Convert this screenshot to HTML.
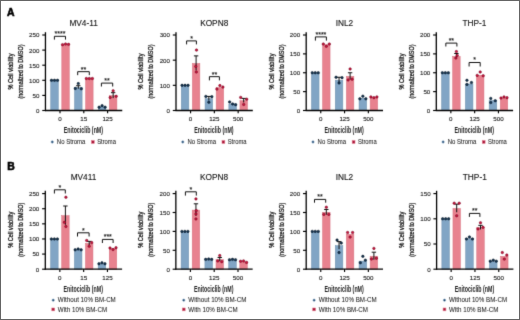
<!DOCTYPE html>
<html><head><meta charset="utf-8"><style>
html,body{margin:0;padding:0;background:#fff;}
#fig{position:relative;width:520px;height:320px;box-sizing:border-box;border:1px solid #646464;overflow:hidden;background:#fff;}
svg{position:absolute;left:-1px;top:-1px;will-change:transform;}
text{font-family:"Liberation Sans", sans-serif;}
</style></head><body><div id="fig">
<svg width="520" height="320" viewBox="0 0 520 320"><defs><filter id="bl" x="0" y="0" width="520" height="320" filterUnits="userSpaceOnUse" color-interpolation-filters="sRGB"><feConvolveMatrix order="3" kernelMatrix="0.01134 0.08382 0.01134 0.08382 0.61935 0.08382 0.01134 0.08382 0.01134" divisor="1" edgeMode="duplicate"/></filter></defs><g filter="url(#bl)"><rect x="0" y="0" width="520" height="320" fill="#fff"/>
<text x="83.65" y="25.90" font-size="8.3" text-anchor="middle" font-weight="normal" fill="#151515" stroke="#151515" stroke-width="0.12">MV4-11</text>
<g transform="translate(12.85,71.55) rotate(-90)"><text x="0" y="0" font-size="7.2" text-anchor="middle" fill="#1a1a1a" stroke="#1a1a1a" stroke-width="0.3" textLength="36" lengthAdjust="spacingAndGlyphs">% Cell viability</text></g>
<g transform="translate(22.75,71.55) rotate(-90)"><text x="0" y="0" font-size="7.2" text-anchor="middle" fill="#1a1a1a" stroke="#1a1a1a" stroke-width="0.3" textLength="54" lengthAdjust="spacingAndGlyphs">(normalized to DMSO)</text></g>
<rect x="50.70" y="80.55" width="7.60" height="29.95" fill="#81a5c5" stroke="#6f90ad" stroke-width="0.5"/>
<rect x="61.80" y="44.61" width="7.50" height="65.89" fill="#e8828f" stroke="#d8707f" stroke-width="0.5"/>
<circle cx="51.50" cy="80.30" r="1.25" fill="#143452" stroke="#07131f" stroke-width="0.5"/>
<circle cx="54.50" cy="80.30" r="1.25" fill="#143452" stroke="#07131f" stroke-width="0.5"/>
<circle cx="57.50" cy="80.30" r="1.25" fill="#143452" stroke="#07131f" stroke-width="0.5"/>
<circle cx="62.55" cy="44.66" r="1.25" fill="#c8143c" stroke="#6e0620" stroke-width="0.5"/>
<circle cx="65.55" cy="44.06" r="1.25" fill="#c8143c" stroke="#6e0620" stroke-width="0.5"/>
<circle cx="68.55" cy="44.36" r="1.25" fill="#c8143c" stroke="#6e0620" stroke-width="0.5"/>
<path d="M54.40,39.60 V36.30 H65.50 V39.60" fill="none" stroke="#111" stroke-width="1.0"/>
<text x="59.95" y="36.20" font-size="7" text-anchor="middle" font-weight="normal" fill="#1a1a1a" stroke="#1a1a1a" stroke-width="0.15">****</text>
<rect x="74.50" y="87.50" width="7.60" height="23.00" fill="#81a5c5" stroke="#6f90ad" stroke-width="0.5"/>
<rect x="85.60" y="78.74" width="7.50" height="31.76" fill="#e8828f" stroke="#d8707f" stroke-width="0.5"/>
<line x1="78.30" y1="85.74" x2="78.30" y2="88.76" stroke="#111" stroke-width="1.0"/>
<line x1="76.10" y1="85.74" x2="80.50" y2="85.74" stroke="#111" stroke-width="1.0"/>
<circle cx="75.30" cy="88.45" r="1.25" fill="#143452" stroke="#07131f" stroke-width="0.5"/>
<circle cx="78.30" cy="83.62" r="1.25" fill="#143452" stroke="#07131f" stroke-width="0.5"/>
<circle cx="81.30" cy="88.76" r="1.25" fill="#143452" stroke="#07131f" stroke-width="0.5"/>
<circle cx="86.35" cy="78.49" r="1.25" fill="#c8143c" stroke="#6e0620" stroke-width="0.5"/>
<circle cx="89.35" cy="78.49" r="1.25" fill="#c8143c" stroke="#6e0620" stroke-width="0.5"/>
<circle cx="92.35" cy="78.49" r="1.25" fill="#c8143c" stroke="#6e0620" stroke-width="0.5"/>
<path d="M77.70,75.16 V71.66 H89.30 V75.16" fill="none" stroke="#111" stroke-width="1.0"/>
<text x="83.50" y="71.56" font-size="7" text-anchor="middle" font-weight="normal" fill="#1a1a1a" stroke="#1a1a1a" stroke-width="0.15">**</text>
<rect x="98.30" y="106.82" width="7.60" height="3.68" fill="#81a5c5" stroke="#6f90ad" stroke-width="0.5"/>
<rect x="109.40" y="95.65" width="7.50" height="14.85" fill="#e8828f" stroke="#d8707f" stroke-width="0.5"/>
<line x1="113.15" y1="92.68" x2="113.15" y2="98.12" stroke="#111" stroke-width="1.0"/>
<line x1="110.95" y1="92.68" x2="115.35" y2="92.68" stroke="#111" stroke-width="1.0"/>
<circle cx="99.10" cy="107.18" r="1.25" fill="#143452" stroke="#07131f" stroke-width="0.5"/>
<circle cx="102.10" cy="105.67" r="1.25" fill="#143452" stroke="#07131f" stroke-width="0.5"/>
<circle cx="105.10" cy="107.18" r="1.25" fill="#143452" stroke="#07131f" stroke-width="0.5"/>
<circle cx="110.15" cy="97.51" r="1.25" fill="#c8143c" stroke="#6e0620" stroke-width="0.5"/>
<circle cx="113.15" cy="90.87" r="1.25" fill="#c8143c" stroke="#6e0620" stroke-width="0.5"/>
<circle cx="116.15" cy="96.31" r="1.25" fill="#c8143c" stroke="#6e0620" stroke-width="0.5"/>
<path d="M101.40,86.50 V83.10 H112.70 V86.50" fill="none" stroke="#111" stroke-width="1.0"/>
<text x="107.05" y="83.00" font-size="7" text-anchor="middle" font-weight="normal" fill="#1a1a1a" stroke="#1a1a1a" stroke-width="0.15">**</text>
<line x1="45.45" y1="32.20" x2="45.45" y2="111.10" stroke="#000" stroke-width="1.3"/>
<line x1="44.95" y1="110.50" x2="122.25" y2="110.50" stroke="#000" stroke-width="1.3"/>
<line x1="42.25" y1="110.50" x2="45.45" y2="110.50" stroke="#000" stroke-width="1.15"/>
<text x="39.45" y="112.90" font-size="6.2" text-anchor="end" font-weight="normal" fill="#1a1a1a" stroke="#1a1a1a" stroke-width="0.1">0</text>
<line x1="42.25" y1="95.40" x2="45.45" y2="95.40" stroke="#000" stroke-width="1.15"/>
<text x="39.45" y="97.80" font-size="6.2" text-anchor="end" font-weight="normal" fill="#1a1a1a" stroke="#1a1a1a" stroke-width="0.1">50</text>
<line x1="42.25" y1="80.30" x2="45.45" y2="80.30" stroke="#000" stroke-width="1.15"/>
<text x="39.45" y="82.70" font-size="6.2" text-anchor="end" font-weight="normal" fill="#1a1a1a" stroke="#1a1a1a" stroke-width="0.1">100</text>
<line x1="42.25" y1="65.20" x2="45.45" y2="65.20" stroke="#000" stroke-width="1.15"/>
<text x="39.45" y="67.60" font-size="6.2" text-anchor="end" font-weight="normal" fill="#1a1a1a" stroke="#1a1a1a" stroke-width="0.1">150</text>
<line x1="42.25" y1="50.10" x2="45.45" y2="50.10" stroke="#000" stroke-width="1.15"/>
<text x="39.45" y="52.50" font-size="6.2" text-anchor="end" font-weight="normal" fill="#1a1a1a" stroke="#1a1a1a" stroke-width="0.1">200</text>
<line x1="42.25" y1="35.00" x2="45.45" y2="35.00" stroke="#000" stroke-width="1.15"/>
<text x="39.45" y="37.40" font-size="6.2" text-anchor="end" font-weight="normal" fill="#1a1a1a" stroke="#1a1a1a" stroke-width="0.1">250</text>
<line x1="60.00" y1="110.50" x2="60.00" y2="113.30" stroke="#000" stroke-width="1.15"/>
<text x="60.00" y="121.40" font-size="6.2" text-anchor="middle" font-weight="normal" fill="#1a1a1a" stroke="#1a1a1a" stroke-width="0.12">0</text>
<line x1="83.80" y1="110.50" x2="83.80" y2="113.30" stroke="#000" stroke-width="1.15"/>
<text x="83.80" y="121.40" font-size="6.2" text-anchor="middle" font-weight="normal" fill="#1a1a1a" stroke="#1a1a1a" stroke-width="0.12">15</text>
<line x1="107.60" y1="110.50" x2="107.60" y2="113.30" stroke="#000" stroke-width="1.15"/>
<text x="107.60" y="121.40" font-size="6.2" text-anchor="middle" font-weight="normal" fill="#1a1a1a" stroke="#1a1a1a" stroke-width="0.12">125</text>
<text x="63.65" y="132.90" font-size="8.3" text-anchor="start" font-weight="bold" fill="#1a1a1a" textLength="39.4" lengthAdjust="spacingAndGlyphs" >Enitociclib (nM)</text>
<circle cx="52.25" cy="142.00" r="1.15" fill="#173c62" stroke="#7fa5c5" stroke-width="0.6"/>
<text x="56.85" y="144.30" font-size="6.5" text-anchor="start" font-weight="normal" fill="#1a1a1a" textLength="28.6" lengthAdjust="spacingAndGlyphs" stroke="#1a1a1a" stroke-width="0.05">No Stroma</text>
<rect x="91.45" y="140.60" width="2.8" height="2.8" fill="#a81236" stroke="#e07a8c" stroke-width="0.6"/>
<text x="97.15" y="144.30" font-size="6.5" text-anchor="start" font-weight="normal" fill="#1a1a1a" textLength="18.8" lengthAdjust="spacingAndGlyphs" stroke="#1a1a1a" stroke-width="0.05">Stroma</text>
<text x="214.20" y="25.90" font-size="8.3" text-anchor="middle" font-weight="normal" fill="#151515" stroke="#151515" stroke-width="0.12">KOPN8</text>
<g transform="translate(143.40,71.55) rotate(-90)"><text x="0" y="0" font-size="7.2" text-anchor="middle" fill="#1a1a1a" stroke="#1a1a1a" stroke-width="0.3" textLength="36" lengthAdjust="spacingAndGlyphs">% Cell viability</text></g>
<g transform="translate(153.30,71.55) rotate(-90)"><text x="0" y="0" font-size="7.2" text-anchor="middle" fill="#1a1a1a" stroke="#1a1a1a" stroke-width="0.3" textLength="54" lengthAdjust="spacingAndGlyphs">(normalized to DMSO)</text></g>
<rect x="181.25" y="85.58" width="7.60" height="24.92" fill="#81a5c5" stroke="#6f90ad" stroke-width="0.5"/>
<rect x="192.35" y="63.44" width="7.50" height="47.06" fill="#e8828f" stroke="#d8707f" stroke-width="0.5"/>
<line x1="196.10" y1="55.89" x2="196.10" y2="70.48" stroke="#111" stroke-width="1.0"/>
<line x1="193.90" y1="55.89" x2="198.30" y2="55.89" stroke="#111" stroke-width="1.0"/>
<circle cx="182.05" cy="85.33" r="1.25" fill="#143452" stroke="#07131f" stroke-width="0.5"/>
<circle cx="185.05" cy="85.33" r="1.25" fill="#143452" stroke="#07131f" stroke-width="0.5"/>
<circle cx="188.05" cy="85.33" r="1.25" fill="#143452" stroke="#07131f" stroke-width="0.5"/>
<circle cx="195.80" cy="66.46" r="1.25" fill="#c8143c" stroke="#6e0620" stroke-width="0.5"/>
<circle cx="196.50" cy="50.10" r="1.25" fill="#c8143c" stroke="#6e0620" stroke-width="0.5"/>
<circle cx="196.30" cy="72.00" r="1.25" fill="#c8143c" stroke="#6e0620" stroke-width="0.5"/>
<path d="M186.60,44.40 V40.90 H196.40 V44.40" fill="none" stroke="#111" stroke-width="1.0"/>
<text x="191.50" y="40.80" font-size="7" text-anchor="middle" font-weight="normal" fill="#1a1a1a" stroke="#1a1a1a" stroke-width="0.15">*</text>
<rect x="205.05" y="98.67" width="7.60" height="11.83" fill="#81a5c5" stroke="#6f90ad" stroke-width="0.5"/>
<rect x="216.15" y="87.60" width="7.50" height="22.90" fill="#e8828f" stroke="#d8707f" stroke-width="0.5"/>
<line x1="208.85" y1="96.41" x2="208.85" y2="100.43" stroke="#111" stroke-width="1.0"/>
<line x1="206.65" y1="96.41" x2="211.05" y2="96.41" stroke="#111" stroke-width="1.0"/>
<circle cx="205.85" cy="96.41" r="1.25" fill="#143452" stroke="#07131f" stroke-width="0.5"/>
<circle cx="208.85" cy="102.19" r="1.25" fill="#143452" stroke="#07131f" stroke-width="0.5"/>
<circle cx="211.85" cy="96.66" r="1.25" fill="#143452" stroke="#07131f" stroke-width="0.5"/>
<circle cx="216.90" cy="89.11" r="1.25" fill="#c8143c" stroke="#6e0620" stroke-width="0.5"/>
<circle cx="219.90" cy="85.59" r="1.25" fill="#c8143c" stroke="#6e0620" stroke-width="0.5"/>
<circle cx="222.90" cy="87.09" r="1.25" fill="#c8143c" stroke="#6e0620" stroke-width="0.5"/>
<path d="M209.40,80.36 V76.66 H219.40 V80.36" fill="none" stroke="#111" stroke-width="1.0"/>
<text x="214.40" y="76.56" font-size="7" text-anchor="middle" font-weight="normal" fill="#1a1a1a" stroke="#1a1a1a" stroke-width="0.15">**</text>
<rect x="228.85" y="103.95" width="7.60" height="6.55" fill="#81a5c5" stroke="#6f90ad" stroke-width="0.5"/>
<rect x="239.95" y="100.68" width="7.50" height="9.82" fill="#e8828f" stroke="#d8707f" stroke-width="0.5"/>
<line x1="243.70" y1="98.42" x2="243.70" y2="102.45" stroke="#111" stroke-width="1.0"/>
<line x1="241.50" y1="98.42" x2="245.90" y2="98.42" stroke="#111" stroke-width="1.0"/>
<circle cx="229.65" cy="101.94" r="1.25" fill="#143452" stroke="#07131f" stroke-width="0.5"/>
<circle cx="232.65" cy="103.96" r="1.25" fill="#143452" stroke="#07131f" stroke-width="0.5"/>
<circle cx="235.65" cy="104.71" r="1.25" fill="#143452" stroke="#07131f" stroke-width="0.5"/>
<circle cx="240.70" cy="97.41" r="1.25" fill="#c8143c" stroke="#6e0620" stroke-width="0.5"/>
<circle cx="243.70" cy="104.46" r="1.25" fill="#c8143c" stroke="#6e0620" stroke-width="0.5"/>
<circle cx="246.70" cy="99.17" r="1.25" fill="#c8143c" stroke="#6e0620" stroke-width="0.5"/>
<line x1="176.00" y1="32.20" x2="176.00" y2="111.10" stroke="#000" stroke-width="1.3"/>
<line x1="175.50" y1="110.50" x2="252.80" y2="110.50" stroke="#000" stroke-width="1.3"/>
<line x1="172.80" y1="110.50" x2="176.00" y2="110.50" stroke="#000" stroke-width="1.15"/>
<text x="170.00" y="112.90" font-size="6.2" text-anchor="end" font-weight="normal" fill="#1a1a1a" stroke="#1a1a1a" stroke-width="0.1">0</text>
<line x1="172.80" y1="85.33" x2="176.00" y2="85.33" stroke="#000" stroke-width="1.15"/>
<text x="170.00" y="87.73" font-size="6.2" text-anchor="end" font-weight="normal" fill="#1a1a1a" stroke="#1a1a1a" stroke-width="0.1">100</text>
<line x1="172.80" y1="60.17" x2="176.00" y2="60.17" stroke="#000" stroke-width="1.15"/>
<text x="170.00" y="62.57" font-size="6.2" text-anchor="end" font-weight="normal" fill="#1a1a1a" stroke="#1a1a1a" stroke-width="0.1">200</text>
<line x1="172.80" y1="35.00" x2="176.00" y2="35.00" stroke="#000" stroke-width="1.15"/>
<text x="170.00" y="37.40" font-size="6.2" text-anchor="end" font-weight="normal" fill="#1a1a1a" stroke="#1a1a1a" stroke-width="0.1">300</text>
<line x1="190.55" y1="110.50" x2="190.55" y2="113.30" stroke="#000" stroke-width="1.15"/>
<text x="190.55" y="121.40" font-size="6.2" text-anchor="middle" font-weight="normal" fill="#1a1a1a" stroke="#1a1a1a" stroke-width="0.12">0</text>
<line x1="214.35" y1="110.50" x2="214.35" y2="113.30" stroke="#000" stroke-width="1.15"/>
<text x="214.35" y="121.40" font-size="6.2" text-anchor="middle" font-weight="normal" fill="#1a1a1a" stroke="#1a1a1a" stroke-width="0.12">125</text>
<line x1="238.15" y1="110.50" x2="238.15" y2="113.30" stroke="#000" stroke-width="1.15"/>
<text x="238.15" y="121.40" font-size="6.2" text-anchor="middle" font-weight="normal" fill="#1a1a1a" stroke="#1a1a1a" stroke-width="0.12">500</text>
<text x="194.20" y="132.90" font-size="8.3" text-anchor="start" font-weight="bold" fill="#1a1a1a" textLength="39.4" lengthAdjust="spacingAndGlyphs" >Enitociclib (nM)</text>
<circle cx="182.80" cy="142.00" r="1.15" fill="#173c62" stroke="#7fa5c5" stroke-width="0.6"/>
<text x="187.40" y="144.30" font-size="6.5" text-anchor="start" font-weight="normal" fill="#1a1a1a" textLength="28.6" lengthAdjust="spacingAndGlyphs" stroke="#1a1a1a" stroke-width="0.05">No Stroma</text>
<rect x="222.00" y="140.60" width="2.8" height="2.8" fill="#a81236" stroke="#e07a8c" stroke-width="0.6"/>
<text x="227.70" y="144.30" font-size="6.5" text-anchor="start" font-weight="normal" fill="#1a1a1a" textLength="18.8" lengthAdjust="spacingAndGlyphs" stroke="#1a1a1a" stroke-width="0.05">Stroma</text>
<text x="344.40" y="25.90" font-size="8.3" text-anchor="middle" font-weight="normal" fill="#151515" stroke="#151515" stroke-width="0.12">INL2</text>
<g transform="translate(273.60,71.55) rotate(-90)"><text x="0" y="0" font-size="7.2" text-anchor="middle" fill="#1a1a1a" stroke="#1a1a1a" stroke-width="0.3" textLength="36" lengthAdjust="spacingAndGlyphs">% Cell viability</text></g>
<g transform="translate(283.50,71.55) rotate(-90)"><text x="0" y="0" font-size="7.2" text-anchor="middle" fill="#1a1a1a" stroke="#1a1a1a" stroke-width="0.3" textLength="54" lengthAdjust="spacingAndGlyphs">(normalized to DMSO)</text></g>
<rect x="311.45" y="73.00" width="7.60" height="37.50" fill="#81a5c5" stroke="#6f90ad" stroke-width="0.5"/>
<rect x="322.55" y="44.69" width="7.50" height="65.81" fill="#e8828f" stroke="#d8707f" stroke-width="0.5"/>
<circle cx="312.25" cy="72.75" r="1.25" fill="#143452" stroke="#07131f" stroke-width="0.5"/>
<circle cx="315.25" cy="72.75" r="1.25" fill="#143452" stroke="#07131f" stroke-width="0.5"/>
<circle cx="318.25" cy="72.75" r="1.25" fill="#143452" stroke="#07131f" stroke-width="0.5"/>
<circle cx="323.30" cy="44.06" r="1.25" fill="#c8143c" stroke="#6e0620" stroke-width="0.5"/>
<circle cx="326.30" cy="46.33" r="1.25" fill="#c8143c" stroke="#6e0620" stroke-width="0.5"/>
<circle cx="329.30" cy="44.06" r="1.25" fill="#c8143c" stroke="#6e0620" stroke-width="0.5"/>
<path d="M315.40,40.60 V36.90 H326.40 V40.60" fill="none" stroke="#111" stroke-width="1.0"/>
<text x="320.90" y="36.80" font-size="7" text-anchor="middle" font-weight="normal" fill="#1a1a1a" stroke="#1a1a1a" stroke-width="0.15">****</text>
<rect x="335.25" y="80.17" width="7.60" height="30.33" fill="#81a5c5" stroke="#6f90ad" stroke-width="0.5"/>
<rect x="346.35" y="76.40" width="7.50" height="34.10" fill="#e8828f" stroke="#d8707f" stroke-width="0.5"/>
<line x1="339.05" y1="77.28" x2="339.05" y2="82.56" stroke="#111" stroke-width="1.0"/>
<line x1="336.85" y1="77.28" x2="341.25" y2="77.28" stroke="#111" stroke-width="1.0"/>
<line x1="350.10" y1="72.75" x2="350.10" y2="79.55" stroke="#111" stroke-width="1.0"/>
<line x1="347.90" y1="72.75" x2="352.30" y2="72.75" stroke="#111" stroke-width="1.0"/>
<circle cx="336.05" cy="77.28" r="1.25" fill="#143452" stroke="#07131f" stroke-width="0.5"/>
<circle cx="339.05" cy="82.94" r="1.25" fill="#143452" stroke="#07131f" stroke-width="0.5"/>
<circle cx="342.05" cy="77.66" r="1.25" fill="#143452" stroke="#07131f" stroke-width="0.5"/>
<circle cx="348.10" cy="79.92" r="1.25" fill="#c8143c" stroke="#6e0620" stroke-width="0.5"/>
<circle cx="350.10" cy="68.97" r="1.25" fill="#c8143c" stroke="#6e0620" stroke-width="0.5"/>
<circle cx="352.10" cy="79.17" r="1.25" fill="#c8143c" stroke="#6e0620" stroke-width="0.5"/>
<rect x="359.05" y="98.29" width="7.60" height="12.21" fill="#81a5c5" stroke="#6f90ad" stroke-width="0.5"/>
<rect x="370.15" y="97.54" width="7.50" height="12.96" fill="#e8828f" stroke="#d8707f" stroke-width="0.5"/>
<circle cx="359.85" cy="98.80" r="1.25" fill="#143452" stroke="#07131f" stroke-width="0.5"/>
<circle cx="362.85" cy="96.16" r="1.25" fill="#143452" stroke="#07131f" stroke-width="0.5"/>
<circle cx="365.85" cy="98.80" r="1.25" fill="#143452" stroke="#07131f" stroke-width="0.5"/>
<circle cx="370.90" cy="96.91" r="1.25" fill="#c8143c" stroke="#6e0620" stroke-width="0.5"/>
<circle cx="373.90" cy="97.66" r="1.25" fill="#c8143c" stroke="#6e0620" stroke-width="0.5"/>
<circle cx="376.90" cy="96.91" r="1.25" fill="#c8143c" stroke="#6e0620" stroke-width="0.5"/>
<line x1="306.20" y1="32.20" x2="306.20" y2="111.10" stroke="#000" stroke-width="1.3"/>
<line x1="305.70" y1="110.50" x2="383.00" y2="110.50" stroke="#000" stroke-width="1.3"/>
<line x1="303.00" y1="110.50" x2="306.20" y2="110.50" stroke="#000" stroke-width="1.15"/>
<text x="300.20" y="112.90" font-size="6.2" text-anchor="end" font-weight="normal" fill="#1a1a1a" stroke="#1a1a1a" stroke-width="0.1">0</text>
<line x1="303.00" y1="91.62" x2="306.20" y2="91.62" stroke="#000" stroke-width="1.15"/>
<text x="300.20" y="94.03" font-size="6.2" text-anchor="end" font-weight="normal" fill="#1a1a1a" stroke="#1a1a1a" stroke-width="0.1">50</text>
<line x1="303.00" y1="72.75" x2="306.20" y2="72.75" stroke="#000" stroke-width="1.15"/>
<text x="300.20" y="75.15" font-size="6.2" text-anchor="end" font-weight="normal" fill="#1a1a1a" stroke="#1a1a1a" stroke-width="0.1">100</text>
<line x1="303.00" y1="53.88" x2="306.20" y2="53.88" stroke="#000" stroke-width="1.15"/>
<text x="300.20" y="56.27" font-size="6.2" text-anchor="end" font-weight="normal" fill="#1a1a1a" stroke="#1a1a1a" stroke-width="0.1">150</text>
<line x1="303.00" y1="35.00" x2="306.20" y2="35.00" stroke="#000" stroke-width="1.15"/>
<text x="300.20" y="37.40" font-size="6.2" text-anchor="end" font-weight="normal" fill="#1a1a1a" stroke="#1a1a1a" stroke-width="0.1">200</text>
<line x1="320.75" y1="110.50" x2="320.75" y2="113.30" stroke="#000" stroke-width="1.15"/>
<text x="320.75" y="121.40" font-size="6.2" text-anchor="middle" font-weight="normal" fill="#1a1a1a" stroke="#1a1a1a" stroke-width="0.12">0</text>
<line x1="344.55" y1="110.50" x2="344.55" y2="113.30" stroke="#000" stroke-width="1.15"/>
<text x="344.55" y="121.40" font-size="6.2" text-anchor="middle" font-weight="normal" fill="#1a1a1a" stroke="#1a1a1a" stroke-width="0.12">125</text>
<line x1="368.35" y1="110.50" x2="368.35" y2="113.30" stroke="#000" stroke-width="1.15"/>
<text x="368.35" y="121.40" font-size="6.2" text-anchor="middle" font-weight="normal" fill="#1a1a1a" stroke="#1a1a1a" stroke-width="0.12">500</text>
<text x="324.40" y="132.90" font-size="8.3" text-anchor="start" font-weight="bold" fill="#1a1a1a" textLength="39.4" lengthAdjust="spacingAndGlyphs" >Enitociclib (nM)</text>
<circle cx="313.00" cy="142.00" r="1.15" fill="#173c62" stroke="#7fa5c5" stroke-width="0.6"/>
<text x="317.60" y="144.30" font-size="6.5" text-anchor="start" font-weight="normal" fill="#1a1a1a" textLength="28.6" lengthAdjust="spacingAndGlyphs" stroke="#1a1a1a" stroke-width="0.05">No Stroma</text>
<rect x="352.20" y="140.60" width="2.8" height="2.8" fill="#a81236" stroke="#e07a8c" stroke-width="0.6"/>
<text x="357.90" y="144.30" font-size="6.5" text-anchor="start" font-weight="normal" fill="#1a1a1a" textLength="18.8" lengthAdjust="spacingAndGlyphs" stroke="#1a1a1a" stroke-width="0.05">Stroma</text>
<text x="474.50" y="25.90" font-size="8.3" text-anchor="middle" font-weight="normal" fill="#151515" stroke="#151515" stroke-width="0.12">THP-1</text>
<g transform="translate(403.70,71.55) rotate(-90)"><text x="0" y="0" font-size="7.2" text-anchor="middle" fill="#1a1a1a" stroke="#1a1a1a" stroke-width="0.3" textLength="36" lengthAdjust="spacingAndGlyphs">% Cell viability</text></g>
<g transform="translate(413.60,71.55) rotate(-90)"><text x="0" y="0" font-size="7.2" text-anchor="middle" fill="#1a1a1a" stroke="#1a1a1a" stroke-width="0.3" textLength="54" lengthAdjust="spacingAndGlyphs">(normalized to DMSO)</text></g>
<rect x="441.55" y="73.00" width="7.60" height="37.50" fill="#81a5c5" stroke="#6f90ad" stroke-width="0.5"/>
<rect x="452.65" y="56.39" width="7.50" height="54.11" fill="#e8828f" stroke="#d8707f" stroke-width="0.5"/>
<line x1="456.40" y1="53.50" x2="456.40" y2="58.78" stroke="#111" stroke-width="1.0"/>
<line x1="454.20" y1="53.50" x2="458.60" y2="53.50" stroke="#111" stroke-width="1.0"/>
<circle cx="442.35" cy="72.75" r="1.25" fill="#143452" stroke="#07131f" stroke-width="0.5"/>
<circle cx="445.35" cy="72.75" r="1.25" fill="#143452" stroke="#07131f" stroke-width="0.5"/>
<circle cx="448.35" cy="72.75" r="1.25" fill="#143452" stroke="#07131f" stroke-width="0.5"/>
<circle cx="455.90" cy="58.03" r="1.25" fill="#c8143c" stroke="#6e0620" stroke-width="0.5"/>
<circle cx="456.40" cy="51.61" r="1.25" fill="#c8143c" stroke="#6e0620" stroke-width="0.5"/>
<circle cx="457.20" cy="55.38" r="1.25" fill="#c8143c" stroke="#6e0620" stroke-width="0.5"/>
<path d="M445.85,46.50 V43.10 H456.90 V46.50" fill="none" stroke="#111" stroke-width="1.0"/>
<text x="451.38" y="43.00" font-size="7" text-anchor="middle" font-weight="normal" fill="#1a1a1a" stroke="#1a1a1a" stroke-width="0.15">**</text>
<rect x="465.35" y="83.95" width="7.60" height="26.55" fill="#81a5c5" stroke="#6f90ad" stroke-width="0.5"/>
<rect x="476.45" y="75.27" width="7.50" height="35.23" fill="#e8828f" stroke="#d8707f" stroke-width="0.5"/>
<circle cx="466.95" cy="80.30" r="1.25" fill="#143452" stroke="#07131f" stroke-width="0.5"/>
<circle cx="471.45" cy="82.56" r="1.25" fill="#143452" stroke="#07131f" stroke-width="0.5"/>
<circle cx="466.95" cy="84.45" r="1.25" fill="#143452" stroke="#07131f" stroke-width="0.5"/>
<circle cx="477.20" cy="75.39" r="1.25" fill="#c8143c" stroke="#6e0620" stroke-width="0.5"/>
<circle cx="480.20" cy="72.00" r="1.25" fill="#c8143c" stroke="#6e0620" stroke-width="0.5"/>
<circle cx="483.20" cy="75.77" r="1.25" fill="#c8143c" stroke="#6e0620" stroke-width="0.5"/>
<path d="M469.10,66.50 V62.50 H480.20 V66.50" fill="none" stroke="#111" stroke-width="1.0"/>
<text x="474.65" y="62.40" font-size="7" text-anchor="middle" font-weight="normal" fill="#1a1a1a" stroke="#1a1a1a" stroke-width="0.15">*</text>
<rect x="489.15" y="100.56" width="7.60" height="9.94" fill="#81a5c5" stroke="#6f90ad" stroke-width="0.5"/>
<rect x="500.25" y="97.91" width="7.50" height="12.59" fill="#e8828f" stroke="#d8707f" stroke-width="0.5"/>
<circle cx="490.75" cy="98.42" r="1.25" fill="#143452" stroke="#07131f" stroke-width="0.5"/>
<circle cx="495.25" cy="100.69" r="1.25" fill="#143452" stroke="#07131f" stroke-width="0.5"/>
<circle cx="490.75" cy="102.57" r="1.25" fill="#143452" stroke="#07131f" stroke-width="0.5"/>
<circle cx="501.00" cy="98.04" r="1.25" fill="#c8143c" stroke="#6e0620" stroke-width="0.5"/>
<circle cx="504.00" cy="96.91" r="1.25" fill="#c8143c" stroke="#6e0620" stroke-width="0.5"/>
<circle cx="507.00" cy="97.66" r="1.25" fill="#c8143c" stroke="#6e0620" stroke-width="0.5"/>
<line x1="436.30" y1="32.20" x2="436.30" y2="111.10" stroke="#000" stroke-width="1.3"/>
<line x1="435.80" y1="110.50" x2="513.10" y2="110.50" stroke="#000" stroke-width="1.3"/>
<line x1="433.10" y1="110.50" x2="436.30" y2="110.50" stroke="#000" stroke-width="1.15"/>
<text x="430.30" y="112.90" font-size="6.2" text-anchor="end" font-weight="normal" fill="#1a1a1a" stroke="#1a1a1a" stroke-width="0.1">0</text>
<line x1="433.10" y1="91.62" x2="436.30" y2="91.62" stroke="#000" stroke-width="1.15"/>
<text x="430.30" y="94.03" font-size="6.2" text-anchor="end" font-weight="normal" fill="#1a1a1a" stroke="#1a1a1a" stroke-width="0.1">50</text>
<line x1="433.10" y1="72.75" x2="436.30" y2="72.75" stroke="#000" stroke-width="1.15"/>
<text x="430.30" y="75.15" font-size="6.2" text-anchor="end" font-weight="normal" fill="#1a1a1a" stroke="#1a1a1a" stroke-width="0.1">100</text>
<line x1="433.10" y1="53.88" x2="436.30" y2="53.88" stroke="#000" stroke-width="1.15"/>
<text x="430.30" y="56.27" font-size="6.2" text-anchor="end" font-weight="normal" fill="#1a1a1a" stroke="#1a1a1a" stroke-width="0.1">150</text>
<line x1="433.10" y1="35.00" x2="436.30" y2="35.00" stroke="#000" stroke-width="1.15"/>
<text x="430.30" y="37.40" font-size="6.2" text-anchor="end" font-weight="normal" fill="#1a1a1a" stroke="#1a1a1a" stroke-width="0.1">200</text>
<line x1="450.85" y1="110.50" x2="450.85" y2="113.30" stroke="#000" stroke-width="1.15"/>
<text x="450.85" y="121.40" font-size="6.2" text-anchor="middle" font-weight="normal" fill="#1a1a1a" stroke="#1a1a1a" stroke-width="0.12">0</text>
<line x1="474.65" y1="110.50" x2="474.65" y2="113.30" stroke="#000" stroke-width="1.15"/>
<text x="474.65" y="121.40" font-size="6.2" text-anchor="middle" font-weight="normal" fill="#1a1a1a" stroke="#1a1a1a" stroke-width="0.12">125</text>
<line x1="498.45" y1="110.50" x2="498.45" y2="113.30" stroke="#000" stroke-width="1.15"/>
<text x="498.45" y="121.40" font-size="6.2" text-anchor="middle" font-weight="normal" fill="#1a1a1a" stroke="#1a1a1a" stroke-width="0.12">500</text>
<text x="454.50" y="132.90" font-size="8.3" text-anchor="start" font-weight="bold" fill="#1a1a1a" textLength="39.4" lengthAdjust="spacingAndGlyphs" >Enitociclib (nM)</text>
<circle cx="443.10" cy="142.00" r="1.15" fill="#173c62" stroke="#7fa5c5" stroke-width="0.6"/>
<text x="447.70" y="144.30" font-size="6.5" text-anchor="start" font-weight="normal" fill="#1a1a1a" textLength="28.6" lengthAdjust="spacingAndGlyphs" stroke="#1a1a1a" stroke-width="0.05">No Stroma</text>
<rect x="482.30" y="140.60" width="2.8" height="2.8" fill="#a81236" stroke="#e07a8c" stroke-width="0.6"/>
<text x="488.00" y="144.30" font-size="6.5" text-anchor="start" font-weight="normal" fill="#1a1a1a" textLength="18.8" lengthAdjust="spacingAndGlyphs" stroke="#1a1a1a" stroke-width="0.05">Stroma</text>
<text x="83.50" y="179.80" font-size="8.3" text-anchor="middle" font-weight="normal" fill="#151515" stroke="#151515" stroke-width="0.12">MV411</text>
<g transform="translate(12.70,229.70) rotate(-90)"><text x="0" y="0" font-size="7.2" text-anchor="middle" fill="#1a1a1a" stroke="#1a1a1a" stroke-width="0.3" textLength="36" lengthAdjust="spacingAndGlyphs">% Cell viability</text></g>
<g transform="translate(22.60,229.70) rotate(-90)"><text x="0" y="0" font-size="7.2" text-anchor="middle" fill="#1a1a1a" stroke="#1a1a1a" stroke-width="0.3" textLength="54" lengthAdjust="spacingAndGlyphs">(normalized to DMSO)</text></g>
<rect x="50.55" y="239.21" width="7.60" height="29.99" fill="#81a5c5" stroke="#6f90ad" stroke-width="0.5"/>
<rect x="61.65" y="215.62" width="7.50" height="53.58" fill="#e8828f" stroke="#d8707f" stroke-width="0.5"/>
<line x1="65.40" y1="206.00" x2="65.40" y2="224.75" stroke="#111" stroke-width="1.0"/>
<line x1="63.20" y1="206.00" x2="67.60" y2="206.00" stroke="#111" stroke-width="1.0"/>
<circle cx="51.35" cy="238.96" r="1.25" fill="#143452" stroke="#07131f" stroke-width="0.5"/>
<circle cx="54.35" cy="238.96" r="1.25" fill="#143452" stroke="#07131f" stroke-width="0.5"/>
<circle cx="57.35" cy="238.96" r="1.25" fill="#143452" stroke="#07131f" stroke-width="0.5"/>
<circle cx="65.90" cy="197.23" r="1.25" fill="#c8143c" stroke="#6e0620" stroke-width="0.5"/>
<circle cx="64.40" cy="222.33" r="1.25" fill="#c8143c" stroke="#6e0620" stroke-width="0.5"/>
<circle cx="65.90" cy="226.56" r="1.25" fill="#c8143c" stroke="#6e0620" stroke-width="0.5"/>
<path d="M54.40,193.50 V189.80 H65.30 V193.50" fill="none" stroke="#111" stroke-width="1.0"/>
<text x="59.85" y="189.70" font-size="7" text-anchor="middle" font-weight="normal" fill="#1a1a1a" stroke="#1a1a1a" stroke-width="0.15">*</text>
<rect x="74.35" y="249.79" width="7.60" height="19.41" fill="#81a5c5" stroke="#6f90ad" stroke-width="0.5"/>
<rect x="85.45" y="243.44" width="7.50" height="25.76" fill="#e8828f" stroke="#d8707f" stroke-width="0.5"/>
<line x1="89.20" y1="241.38" x2="89.20" y2="245.01" stroke="#111" stroke-width="1.0"/>
<line x1="87.00" y1="241.38" x2="91.40" y2="241.38" stroke="#111" stroke-width="1.0"/>
<circle cx="75.15" cy="249.85" r="1.25" fill="#143452" stroke="#07131f" stroke-width="0.5"/>
<circle cx="78.15" cy="248.94" r="1.25" fill="#143452" stroke="#07131f" stroke-width="0.5"/>
<circle cx="81.15" cy="249.85" r="1.25" fill="#143452" stroke="#07131f" stroke-width="0.5"/>
<circle cx="86.70" cy="240.47" r="1.25" fill="#c8143c" stroke="#6e0620" stroke-width="0.5"/>
<circle cx="89.20" cy="246.22" r="1.25" fill="#c8143c" stroke="#6e0620" stroke-width="0.5"/>
<circle cx="91.70" cy="242.59" r="1.25" fill="#c8143c" stroke="#6e0620" stroke-width="0.5"/>
<path d="M77.50,236.50 V232.80 H89.10 V236.50" fill="none" stroke="#111" stroke-width="1.0"/>
<text x="83.30" y="232.70" font-size="7" text-anchor="middle" font-weight="normal" fill="#1a1a1a" stroke="#1a1a1a" stroke-width="0.15">*</text>
<rect x="98.15" y="263.70" width="7.60" height="5.50" fill="#81a5c5" stroke="#6f90ad" stroke-width="0.5"/>
<rect x="109.25" y="248.58" width="7.50" height="20.62" fill="#e8828f" stroke="#d8707f" stroke-width="0.5"/>
<circle cx="98.95" cy="263.76" r="1.25" fill="#143452" stroke="#07131f" stroke-width="0.5"/>
<circle cx="101.95" cy="262.85" r="1.25" fill="#143452" stroke="#07131f" stroke-width="0.5"/>
<circle cx="104.95" cy="263.76" r="1.25" fill="#143452" stroke="#07131f" stroke-width="0.5"/>
<circle cx="110.00" cy="248.03" r="1.25" fill="#c8143c" stroke="#6e0620" stroke-width="0.5"/>
<circle cx="113.00" cy="249.54" r="1.25" fill="#c8143c" stroke="#6e0620" stroke-width="0.5"/>
<circle cx="116.00" cy="247.73" r="1.25" fill="#c8143c" stroke="#6e0620" stroke-width="0.5"/>
<path d="M102.40,243.00 V239.40 H113.10 V243.00" fill="none" stroke="#111" stroke-width="1.0"/>
<text x="107.75" y="239.30" font-size="7" text-anchor="middle" font-weight="normal" fill="#1a1a1a" stroke="#1a1a1a" stroke-width="0.15">***</text>
<line x1="45.30" y1="190.80" x2="45.30" y2="269.80" stroke="#000" stroke-width="1.3"/>
<line x1="44.80" y1="269.20" x2="122.10" y2="269.20" stroke="#000" stroke-width="1.3"/>
<line x1="42.10" y1="269.20" x2="45.30" y2="269.20" stroke="#000" stroke-width="1.15"/>
<text x="39.30" y="271.60" font-size="6.2" text-anchor="end" font-weight="normal" fill="#1a1a1a" stroke="#1a1a1a" stroke-width="0.1">0</text>
<line x1="42.10" y1="254.08" x2="45.30" y2="254.08" stroke="#000" stroke-width="1.15"/>
<text x="39.30" y="256.48" font-size="6.2" text-anchor="end" font-weight="normal" fill="#1a1a1a" stroke="#1a1a1a" stroke-width="0.1">50</text>
<line x1="42.10" y1="238.96" x2="45.30" y2="238.96" stroke="#000" stroke-width="1.15"/>
<text x="39.30" y="241.36" font-size="6.2" text-anchor="end" font-weight="normal" fill="#1a1a1a" stroke="#1a1a1a" stroke-width="0.1">100</text>
<line x1="42.10" y1="223.84" x2="45.30" y2="223.84" stroke="#000" stroke-width="1.15"/>
<text x="39.30" y="226.24" font-size="6.2" text-anchor="end" font-weight="normal" fill="#1a1a1a" stroke="#1a1a1a" stroke-width="0.1">150</text>
<line x1="42.10" y1="208.72" x2="45.30" y2="208.72" stroke="#000" stroke-width="1.15"/>
<text x="39.30" y="211.12" font-size="6.2" text-anchor="end" font-weight="normal" fill="#1a1a1a" stroke="#1a1a1a" stroke-width="0.1">200</text>
<line x1="42.10" y1="193.60" x2="45.30" y2="193.60" stroke="#000" stroke-width="1.15"/>
<text x="39.30" y="196.00" font-size="6.2" text-anchor="end" font-weight="normal" fill="#1a1a1a" stroke="#1a1a1a" stroke-width="0.1">250</text>
<line x1="59.85" y1="269.20" x2="59.85" y2="272.00" stroke="#000" stroke-width="1.15"/>
<text x="59.85" y="280.10" font-size="6.2" text-anchor="middle" font-weight="normal" fill="#1a1a1a" stroke="#1a1a1a" stroke-width="0.12">0</text>
<line x1="83.65" y1="269.20" x2="83.65" y2="272.00" stroke="#000" stroke-width="1.15"/>
<text x="83.65" y="280.10" font-size="6.2" text-anchor="middle" font-weight="normal" fill="#1a1a1a" stroke="#1a1a1a" stroke-width="0.12">15</text>
<line x1="107.45" y1="269.20" x2="107.45" y2="272.00" stroke="#000" stroke-width="1.15"/>
<text x="107.45" y="280.10" font-size="6.2" text-anchor="middle" font-weight="normal" fill="#1a1a1a" stroke="#1a1a1a" stroke-width="0.12">125</text>
<text x="63.50" y="291.60" font-size="8.3" text-anchor="start" font-weight="bold" fill="#1a1a1a" textLength="39.4" lengthAdjust="spacingAndGlyphs" >Enitociclib (nM)</text>
<circle cx="53.20" cy="300.20" r="1.15" fill="#173c62" stroke="#7fa5c5" stroke-width="0.6"/>
<text x="57.80" y="302.30" font-size="6.5" text-anchor="start" font-weight="normal" fill="#1a1a1a" textLength="58" lengthAdjust="spacingAndGlyphs" stroke="#1a1a1a" stroke-width="0.05">Without 10% BM-CM</text>
<rect x="51.80" y="308.00" width="2.8" height="2.8" fill="#a81236" stroke="#e07a8c" stroke-width="0.6"/>
<text x="57.80" y="311.50" font-size="6.5" text-anchor="start" font-weight="normal" fill="#1a1a1a" textLength="49.3" lengthAdjust="spacingAndGlyphs" stroke="#1a1a1a" stroke-width="0.05">With 10% BM-CM</text>
<text x="214.05" y="179.80" font-size="8.3" text-anchor="middle" font-weight="normal" fill="#151515" stroke="#151515" stroke-width="0.12">KOPN8</text>
<g transform="translate(143.25,229.70) rotate(-90)"><text x="0" y="0" font-size="7.2" text-anchor="middle" fill="#1a1a1a" stroke="#1a1a1a" stroke-width="0.3" textLength="36" lengthAdjust="spacingAndGlyphs">% Cell viability</text></g>
<g transform="translate(153.15,229.70) rotate(-90)"><text x="0" y="0" font-size="7.2" text-anchor="middle" fill="#1a1a1a" stroke="#1a1a1a" stroke-width="0.3" textLength="54" lengthAdjust="spacingAndGlyphs">(normalized to DMSO)</text></g>
<rect x="181.10" y="231.65" width="7.60" height="37.55" fill="#81a5c5" stroke="#6f90ad" stroke-width="0.5"/>
<rect x="192.20" y="210.10" width="7.50" height="59.10" fill="#e8828f" stroke="#d8707f" stroke-width="0.5"/>
<line x1="195.95" y1="203.81" x2="195.95" y2="215.90" stroke="#111" stroke-width="1.0"/>
<line x1="193.75" y1="203.81" x2="198.15" y2="203.81" stroke="#111" stroke-width="1.0"/>
<circle cx="181.90" cy="231.40" r="1.25" fill="#143452" stroke="#07131f" stroke-width="0.5"/>
<circle cx="184.90" cy="231.40" r="1.25" fill="#143452" stroke="#07131f" stroke-width="0.5"/>
<circle cx="187.90" cy="231.40" r="1.25" fill="#143452" stroke="#07131f" stroke-width="0.5"/>
<circle cx="195.95" cy="198.89" r="1.25" fill="#c8143c" stroke="#6e0620" stroke-width="0.5"/>
<circle cx="196.25" cy="210.61" r="1.25" fill="#c8143c" stroke="#6e0620" stroke-width="0.5"/>
<circle cx="195.95" cy="214.01" r="1.25" fill="#c8143c" stroke="#6e0620" stroke-width="0.5"/>
<circle cx="195.95" cy="218.93" r="1.25" fill="#c8143c" stroke="#6e0620" stroke-width="0.5"/>
<path d="M185.40,195.60 V191.80 H196.30 V195.60" fill="none" stroke="#111" stroke-width="1.0"/>
<text x="190.85" y="191.70" font-size="7" text-anchor="middle" font-weight="normal" fill="#1a1a1a" stroke="#1a1a1a" stroke-width="0.15">*</text>
<rect x="204.90" y="260.00" width="7.60" height="9.20" fill="#81a5c5" stroke="#6f90ad" stroke-width="0.5"/>
<rect x="216.00" y="259.62" width="7.50" height="9.58" fill="#e8828f" stroke="#d8707f" stroke-width="0.5"/>
<line x1="219.75" y1="257.48" x2="219.75" y2="261.26" stroke="#111" stroke-width="1.0"/>
<line x1="217.55" y1="257.48" x2="221.95" y2="257.48" stroke="#111" stroke-width="1.0"/>
<circle cx="205.70" cy="259.37" r="1.25" fill="#143452" stroke="#07131f" stroke-width="0.5"/>
<circle cx="208.70" cy="258.99" r="1.25" fill="#143452" stroke="#07131f" stroke-width="0.5"/>
<circle cx="211.70" cy="259.37" r="1.25" fill="#143452" stroke="#07131f" stroke-width="0.5"/>
<circle cx="217.75" cy="260.88" r="1.25" fill="#c8143c" stroke="#6e0620" stroke-width="0.5"/>
<circle cx="219.75" cy="255.59" r="1.25" fill="#c8143c" stroke="#6e0620" stroke-width="0.5"/>
<circle cx="221.75" cy="261.64" r="1.25" fill="#c8143c" stroke="#6e0620" stroke-width="0.5"/>
<rect x="228.70" y="260.00" width="7.60" height="9.20" fill="#81a5c5" stroke="#6f90ad" stroke-width="0.5"/>
<rect x="239.80" y="261.89" width="7.50" height="7.31" fill="#e8828f" stroke="#d8707f" stroke-width="0.5"/>
<circle cx="229.50" cy="259.75" r="1.25" fill="#143452" stroke="#07131f" stroke-width="0.5"/>
<circle cx="232.50" cy="259.37" r="1.25" fill="#143452" stroke="#07131f" stroke-width="0.5"/>
<circle cx="235.50" cy="259.75" r="1.25" fill="#143452" stroke="#07131f" stroke-width="0.5"/>
<circle cx="240.55" cy="261.26" r="1.25" fill="#c8143c" stroke="#6e0620" stroke-width="0.5"/>
<circle cx="243.55" cy="260.88" r="1.25" fill="#c8143c" stroke="#6e0620" stroke-width="0.5"/>
<circle cx="246.55" cy="262.40" r="1.25" fill="#c8143c" stroke="#6e0620" stroke-width="0.5"/>
<line x1="175.85" y1="190.80" x2="175.85" y2="269.80" stroke="#000" stroke-width="1.3"/>
<line x1="175.35" y1="269.20" x2="252.65" y2="269.20" stroke="#000" stroke-width="1.3"/>
<line x1="172.65" y1="269.20" x2="175.85" y2="269.20" stroke="#000" stroke-width="1.15"/>
<text x="169.85" y="271.60" font-size="6.2" text-anchor="end" font-weight="normal" fill="#1a1a1a" stroke="#1a1a1a" stroke-width="0.1">0</text>
<line x1="172.65" y1="250.30" x2="175.85" y2="250.30" stroke="#000" stroke-width="1.15"/>
<text x="169.85" y="252.70" font-size="6.2" text-anchor="end" font-weight="normal" fill="#1a1a1a" stroke="#1a1a1a" stroke-width="0.1">50</text>
<line x1="172.65" y1="231.40" x2="175.85" y2="231.40" stroke="#000" stroke-width="1.15"/>
<text x="169.85" y="233.80" font-size="6.2" text-anchor="end" font-weight="normal" fill="#1a1a1a" stroke="#1a1a1a" stroke-width="0.1">100</text>
<line x1="172.65" y1="212.50" x2="175.85" y2="212.50" stroke="#000" stroke-width="1.15"/>
<text x="169.85" y="214.90" font-size="6.2" text-anchor="end" font-weight="normal" fill="#1a1a1a" stroke="#1a1a1a" stroke-width="0.1">150</text>
<line x1="172.65" y1="193.60" x2="175.85" y2="193.60" stroke="#000" stroke-width="1.15"/>
<text x="169.85" y="196.00" font-size="6.2" text-anchor="end" font-weight="normal" fill="#1a1a1a" stroke="#1a1a1a" stroke-width="0.1">200</text>
<line x1="190.40" y1="269.20" x2="190.40" y2="272.00" stroke="#000" stroke-width="1.15"/>
<text x="190.40" y="280.10" font-size="6.2" text-anchor="middle" font-weight="normal" fill="#1a1a1a" stroke="#1a1a1a" stroke-width="0.12">0</text>
<line x1="214.20" y1="269.20" x2="214.20" y2="272.00" stroke="#000" stroke-width="1.15"/>
<text x="214.20" y="280.10" font-size="6.2" text-anchor="middle" font-weight="normal" fill="#1a1a1a" stroke="#1a1a1a" stroke-width="0.12">125</text>
<line x1="238.00" y1="269.20" x2="238.00" y2="272.00" stroke="#000" stroke-width="1.15"/>
<text x="238.00" y="280.10" font-size="6.2" text-anchor="middle" font-weight="normal" fill="#1a1a1a" stroke="#1a1a1a" stroke-width="0.12">500</text>
<text x="194.05" y="291.60" font-size="8.3" text-anchor="start" font-weight="bold" fill="#1a1a1a" textLength="39.4" lengthAdjust="spacingAndGlyphs" >Enitociclib (nM)</text>
<circle cx="183.75" cy="300.20" r="1.15" fill="#173c62" stroke="#7fa5c5" stroke-width="0.6"/>
<text x="188.35" y="302.30" font-size="6.5" text-anchor="start" font-weight="normal" fill="#1a1a1a" textLength="58" lengthAdjust="spacingAndGlyphs" stroke="#1a1a1a" stroke-width="0.05">Without 10% BM-CM</text>
<rect x="182.35" y="308.00" width="2.8" height="2.8" fill="#a81236" stroke="#e07a8c" stroke-width="0.6"/>
<text x="188.35" y="311.50" font-size="6.5" text-anchor="start" font-weight="normal" fill="#1a1a1a" textLength="49.3" lengthAdjust="spacingAndGlyphs" stroke="#1a1a1a" stroke-width="0.05">With 10% BM-CM</text>
<text x="344.40" y="179.80" font-size="8.3" text-anchor="middle" font-weight="normal" fill="#151515" stroke="#151515" stroke-width="0.12">INL2</text>
<g transform="translate(273.60,229.70) rotate(-90)"><text x="0" y="0" font-size="7.2" text-anchor="middle" fill="#1a1a1a" stroke="#1a1a1a" stroke-width="0.3" textLength="36" lengthAdjust="spacingAndGlyphs">% Cell viability</text></g>
<g transform="translate(283.50,229.70) rotate(-90)"><text x="0" y="0" font-size="7.2" text-anchor="middle" fill="#1a1a1a" stroke="#1a1a1a" stroke-width="0.3" textLength="54" lengthAdjust="spacingAndGlyphs">(normalized to DMSO)</text></g>
<rect x="311.45" y="231.65" width="7.60" height="37.55" fill="#81a5c5" stroke="#6f90ad" stroke-width="0.5"/>
<rect x="322.55" y="212.37" width="7.50" height="56.83" fill="#e8828f" stroke="#d8707f" stroke-width="0.5"/>
<line x1="326.30" y1="209.48" x2="326.30" y2="214.77" stroke="#111" stroke-width="1.0"/>
<line x1="324.10" y1="209.48" x2="328.50" y2="209.48" stroke="#111" stroke-width="1.0"/>
<circle cx="312.25" cy="231.40" r="1.25" fill="#143452" stroke="#07131f" stroke-width="0.5"/>
<circle cx="315.25" cy="231.40" r="1.25" fill="#143452" stroke="#07131f" stroke-width="0.5"/>
<circle cx="318.25" cy="231.40" r="1.25" fill="#143452" stroke="#07131f" stroke-width="0.5"/>
<circle cx="323.80" cy="214.39" r="1.25" fill="#c8143c" stroke="#6e0620" stroke-width="0.5"/>
<circle cx="326.30" cy="207.21" r="1.25" fill="#c8143c" stroke="#6e0620" stroke-width="0.5"/>
<circle cx="328.80" cy="214.39" r="1.25" fill="#c8143c" stroke="#6e0620" stroke-width="0.5"/>
<path d="M314.50,202.70 V199.40 H325.70 V202.70" fill="none" stroke="#111" stroke-width="1.0"/>
<text x="320.10" y="199.30" font-size="7" text-anchor="middle" font-weight="normal" fill="#1a1a1a" stroke="#1a1a1a" stroke-width="0.15">**</text>
<rect x="335.25" y="245.64" width="7.60" height="23.56" fill="#81a5c5" stroke="#6f90ad" stroke-width="0.5"/>
<rect x="346.35" y="234.30" width="7.50" height="34.90" fill="#e8828f" stroke="#d8707f" stroke-width="0.5"/>
<line x1="339.05" y1="241.61" x2="339.05" y2="249.17" stroke="#111" stroke-width="1.0"/>
<line x1="336.85" y1="241.61" x2="341.25" y2="241.61" stroke="#111" stroke-width="1.0"/>
<circle cx="337.05" cy="240.09" r="1.25" fill="#143452" stroke="#07131f" stroke-width="0.5"/>
<circle cx="341.25" cy="243.12" r="1.25" fill="#143452" stroke="#07131f" stroke-width="0.5"/>
<circle cx="339.05" cy="252.57" r="1.25" fill="#143452" stroke="#07131f" stroke-width="0.5"/>
<circle cx="347.60" cy="232.53" r="1.25" fill="#c8143c" stroke="#6e0620" stroke-width="0.5"/>
<circle cx="350.10" cy="237.07" r="1.25" fill="#c8143c" stroke="#6e0620" stroke-width="0.5"/>
<circle cx="352.60" cy="232.53" r="1.25" fill="#c8143c" stroke="#6e0620" stroke-width="0.5"/>
<rect x="359.05" y="261.13" width="7.60" height="8.07" fill="#81a5c5" stroke="#6f90ad" stroke-width="0.5"/>
<rect x="370.15" y="256.22" width="7.50" height="12.98" fill="#e8828f" stroke="#d8707f" stroke-width="0.5"/>
<line x1="373.90" y1="252.19" x2="373.90" y2="259.75" stroke="#111" stroke-width="1.0"/>
<line x1="371.70" y1="252.19" x2="376.10" y2="252.19" stroke="#111" stroke-width="1.0"/>
<circle cx="360.35" cy="262.77" r="1.25" fill="#143452" stroke="#07131f" stroke-width="0.5"/>
<circle cx="362.85" cy="256.35" r="1.25" fill="#143452" stroke="#07131f" stroke-width="0.5"/>
<circle cx="365.35" cy="260.13" r="1.25" fill="#143452" stroke="#07131f" stroke-width="0.5"/>
<circle cx="371.40" cy="258.99" r="1.25" fill="#c8143c" stroke="#6e0620" stroke-width="0.5"/>
<circle cx="373.90" cy="248.41" r="1.25" fill="#c8143c" stroke="#6e0620" stroke-width="0.5"/>
<circle cx="376.40" cy="258.24" r="1.25" fill="#c8143c" stroke="#6e0620" stroke-width="0.5"/>
<line x1="306.20" y1="190.80" x2="306.20" y2="269.80" stroke="#000" stroke-width="1.3"/>
<line x1="305.70" y1="269.20" x2="383.00" y2="269.20" stroke="#000" stroke-width="1.3"/>
<line x1="303.00" y1="269.20" x2="306.20" y2="269.20" stroke="#000" stroke-width="1.15"/>
<text x="300.20" y="271.60" font-size="6.2" text-anchor="end" font-weight="normal" fill="#1a1a1a" stroke="#1a1a1a" stroke-width="0.1">0</text>
<line x1="303.00" y1="250.30" x2="306.20" y2="250.30" stroke="#000" stroke-width="1.15"/>
<text x="300.20" y="252.70" font-size="6.2" text-anchor="end" font-weight="normal" fill="#1a1a1a" stroke="#1a1a1a" stroke-width="0.1">50</text>
<line x1="303.00" y1="231.40" x2="306.20" y2="231.40" stroke="#000" stroke-width="1.15"/>
<text x="300.20" y="233.80" font-size="6.2" text-anchor="end" font-weight="normal" fill="#1a1a1a" stroke="#1a1a1a" stroke-width="0.1">100</text>
<line x1="303.00" y1="212.50" x2="306.20" y2="212.50" stroke="#000" stroke-width="1.15"/>
<text x="300.20" y="214.90" font-size="6.2" text-anchor="end" font-weight="normal" fill="#1a1a1a" stroke="#1a1a1a" stroke-width="0.1">150</text>
<line x1="303.00" y1="193.60" x2="306.20" y2="193.60" stroke="#000" stroke-width="1.15"/>
<text x="300.20" y="196.00" font-size="6.2" text-anchor="end" font-weight="normal" fill="#1a1a1a" stroke="#1a1a1a" stroke-width="0.1">200</text>
<line x1="320.75" y1="269.20" x2="320.75" y2="272.00" stroke="#000" stroke-width="1.15"/>
<text x="320.75" y="280.10" font-size="6.2" text-anchor="middle" font-weight="normal" fill="#1a1a1a" stroke="#1a1a1a" stroke-width="0.12">0</text>
<line x1="344.55" y1="269.20" x2="344.55" y2="272.00" stroke="#000" stroke-width="1.15"/>
<text x="344.55" y="280.10" font-size="6.2" text-anchor="middle" font-weight="normal" fill="#1a1a1a" stroke="#1a1a1a" stroke-width="0.12">125</text>
<line x1="368.35" y1="269.20" x2="368.35" y2="272.00" stroke="#000" stroke-width="1.15"/>
<text x="368.35" y="280.10" font-size="6.2" text-anchor="middle" font-weight="normal" fill="#1a1a1a" stroke="#1a1a1a" stroke-width="0.12">500</text>
<text x="324.40" y="291.60" font-size="8.3" text-anchor="start" font-weight="bold" fill="#1a1a1a" textLength="39.4" lengthAdjust="spacingAndGlyphs" >Enitociclib (nM)</text>
<circle cx="314.10" cy="300.20" r="1.15" fill="#173c62" stroke="#7fa5c5" stroke-width="0.6"/>
<text x="318.70" y="302.30" font-size="6.5" text-anchor="start" font-weight="normal" fill="#1a1a1a" textLength="58" lengthAdjust="spacingAndGlyphs" stroke="#1a1a1a" stroke-width="0.05">Without 10% BM-CM</text>
<rect x="312.70" y="308.00" width="2.8" height="2.8" fill="#a81236" stroke="#e07a8c" stroke-width="0.6"/>
<text x="318.70" y="311.50" font-size="6.5" text-anchor="start" font-weight="normal" fill="#1a1a1a" textLength="49.3" lengthAdjust="spacingAndGlyphs" stroke="#1a1a1a" stroke-width="0.05">With 10% BM-CM</text>
<text x="474.80" y="179.80" font-size="8.3" text-anchor="middle" font-weight="normal" fill="#151515" stroke="#151515" stroke-width="0.12">THP-1</text>
<g transform="translate(404.00,229.70) rotate(-90)"><text x="0" y="0" font-size="7.2" text-anchor="middle" fill="#1a1a1a" stroke="#1a1a1a" stroke-width="0.3" textLength="36" lengthAdjust="spacingAndGlyphs">% Cell viability</text></g>
<g transform="translate(413.90,229.70) rotate(-90)"><text x="0" y="0" font-size="7.2" text-anchor="middle" fill="#1a1a1a" stroke="#1a1a1a" stroke-width="0.3" textLength="54" lengthAdjust="spacingAndGlyphs">(normalized to DMSO)</text></g>
<rect x="441.85" y="219.05" width="7.60" height="50.15" fill="#81a5c5" stroke="#6f90ad" stroke-width="0.5"/>
<rect x="452.95" y="208.47" width="7.50" height="60.73" fill="#e8828f" stroke="#d8707f" stroke-width="0.5"/>
<line x1="456.70" y1="204.18" x2="456.70" y2="212.25" stroke="#111" stroke-width="1.0"/>
<line x1="454.50" y1="204.18" x2="458.90" y2="204.18" stroke="#111" stroke-width="1.0"/>
<circle cx="442.65" cy="218.80" r="1.25" fill="#143452" stroke="#07131f" stroke-width="0.5"/>
<circle cx="445.65" cy="218.80" r="1.25" fill="#143452" stroke="#07131f" stroke-width="0.5"/>
<circle cx="448.65" cy="218.80" r="1.25" fill="#143452" stroke="#07131f" stroke-width="0.5"/>
<circle cx="454.20" cy="203.18" r="1.25" fill="#c8143c" stroke="#6e0620" stroke-width="0.5"/>
<circle cx="456.70" cy="215.78" r="1.25" fill="#c8143c" stroke="#6e0620" stroke-width="0.5"/>
<circle cx="459.20" cy="203.18" r="1.25" fill="#c8143c" stroke="#6e0620" stroke-width="0.5"/>
<rect x="465.65" y="238.71" width="7.60" height="30.49" fill="#81a5c5" stroke="#6f90ad" stroke-width="0.5"/>
<rect x="476.75" y="227.62" width="7.50" height="41.58" fill="#e8828f" stroke="#d8707f" stroke-width="0.5"/>
<line x1="480.50" y1="225.35" x2="480.50" y2="229.38" stroke="#111" stroke-width="1.0"/>
<line x1="478.30" y1="225.35" x2="482.70" y2="225.35" stroke="#111" stroke-width="1.0"/>
<circle cx="466.45" cy="238.96" r="1.25" fill="#143452" stroke="#07131f" stroke-width="0.5"/>
<circle cx="469.45" cy="236.94" r="1.25" fill="#143452" stroke="#07131f" stroke-width="0.5"/>
<circle cx="472.45" cy="238.96" r="1.25" fill="#143452" stroke="#07131f" stroke-width="0.5"/>
<circle cx="478.00" cy="228.88" r="1.25" fill="#c8143c" stroke="#6e0620" stroke-width="0.5"/>
<circle cx="480.50" cy="222.83" r="1.25" fill="#c8143c" stroke="#6e0620" stroke-width="0.5"/>
<circle cx="483.00" cy="227.37" r="1.25" fill="#c8143c" stroke="#6e0620" stroke-width="0.5"/>
<path d="M469.40,216.90 V213.40 H479.90 V216.90" fill="none" stroke="#111" stroke-width="1.0"/>
<text x="474.65" y="213.30" font-size="7" text-anchor="middle" font-weight="normal" fill="#1a1a1a" stroke="#1a1a1a" stroke-width="0.15">**</text>
<rect x="489.45" y="261.39" width="7.60" height="7.81" fill="#81a5c5" stroke="#6f90ad" stroke-width="0.5"/>
<rect x="500.55" y="256.35" width="7.50" height="12.85" fill="#e8828f" stroke="#d8707f" stroke-width="0.5"/>
<circle cx="490.25" cy="261.14" r="1.25" fill="#143452" stroke="#07131f" stroke-width="0.5"/>
<circle cx="493.25" cy="260.13" r="1.25" fill="#143452" stroke="#07131f" stroke-width="0.5"/>
<circle cx="496.25" cy="261.14" r="1.25" fill="#143452" stroke="#07131f" stroke-width="0.5"/>
<circle cx="502.30" cy="252.57" r="1.25" fill="#c8143c" stroke="#6e0620" stroke-width="0.5"/>
<circle cx="506.80" cy="255.09" r="1.25" fill="#c8143c" stroke="#6e0620" stroke-width="0.5"/>
<circle cx="504.30" cy="259.12" r="1.25" fill="#c8143c" stroke="#6e0620" stroke-width="0.5"/>
<line x1="436.60" y1="190.80" x2="436.60" y2="269.80" stroke="#000" stroke-width="1.3"/>
<line x1="436.10" y1="269.20" x2="513.40" y2="269.20" stroke="#000" stroke-width="1.3"/>
<line x1="433.40" y1="269.20" x2="436.60" y2="269.20" stroke="#000" stroke-width="1.15"/>
<text x="430.60" y="271.60" font-size="6.2" text-anchor="end" font-weight="normal" fill="#1a1a1a" stroke="#1a1a1a" stroke-width="0.1">0</text>
<line x1="433.40" y1="244.00" x2="436.60" y2="244.00" stroke="#000" stroke-width="1.15"/>
<text x="430.60" y="246.40" font-size="6.2" text-anchor="end" font-weight="normal" fill="#1a1a1a" stroke="#1a1a1a" stroke-width="0.1">50</text>
<line x1="433.40" y1="218.80" x2="436.60" y2="218.80" stroke="#000" stroke-width="1.15"/>
<text x="430.60" y="221.20" font-size="6.2" text-anchor="end" font-weight="normal" fill="#1a1a1a" stroke="#1a1a1a" stroke-width="0.1">100</text>
<line x1="433.40" y1="193.60" x2="436.60" y2="193.60" stroke="#000" stroke-width="1.15"/>
<text x="430.60" y="196.00" font-size="6.2" text-anchor="end" font-weight="normal" fill="#1a1a1a" stroke="#1a1a1a" stroke-width="0.1">150</text>
<line x1="451.15" y1="269.20" x2="451.15" y2="272.00" stroke="#000" stroke-width="1.15"/>
<text x="451.15" y="280.10" font-size="6.2" text-anchor="middle" font-weight="normal" fill="#1a1a1a" stroke="#1a1a1a" stroke-width="0.12">0</text>
<line x1="474.95" y1="269.20" x2="474.95" y2="272.00" stroke="#000" stroke-width="1.15"/>
<text x="474.95" y="280.10" font-size="6.2" text-anchor="middle" font-weight="normal" fill="#1a1a1a" stroke="#1a1a1a" stroke-width="0.12">125</text>
<line x1="498.75" y1="269.20" x2="498.75" y2="272.00" stroke="#000" stroke-width="1.15"/>
<text x="498.75" y="280.10" font-size="6.2" text-anchor="middle" font-weight="normal" fill="#1a1a1a" stroke="#1a1a1a" stroke-width="0.12">500</text>
<text x="454.80" y="291.60" font-size="8.3" text-anchor="start" font-weight="bold" fill="#1a1a1a" textLength="39.4" lengthAdjust="spacingAndGlyphs" >Enitociclib (nM)</text>
<circle cx="444.50" cy="300.20" r="1.15" fill="#173c62" stroke="#7fa5c5" stroke-width="0.6"/>
<text x="449.10" y="302.30" font-size="6.5" text-anchor="start" font-weight="normal" fill="#1a1a1a" textLength="58" lengthAdjust="spacingAndGlyphs" stroke="#1a1a1a" stroke-width="0.05">Without 10% BM-CM</text>
<rect x="443.10" y="308.00" width="2.8" height="2.8" fill="#a81236" stroke="#e07a8c" stroke-width="0.6"/>
<text x="449.10" y="311.50" font-size="6.5" text-anchor="start" font-weight="normal" fill="#1a1a1a" textLength="49.3" lengthAdjust="spacingAndGlyphs" stroke="#1a1a1a" stroke-width="0.05">With 10% BM-CM</text>
<text x="6.90" y="15.50" font-size="10.4" text-anchor="start" font-weight="bold" fill="#000" stroke="#000" stroke-width="0.6">A</text>
<text x="7.20" y="169.50" font-size="10.4" text-anchor="start" font-weight="bold" fill="#000" stroke="#000" stroke-width="0.6">B</text>
</g></svg></div></body></html>
